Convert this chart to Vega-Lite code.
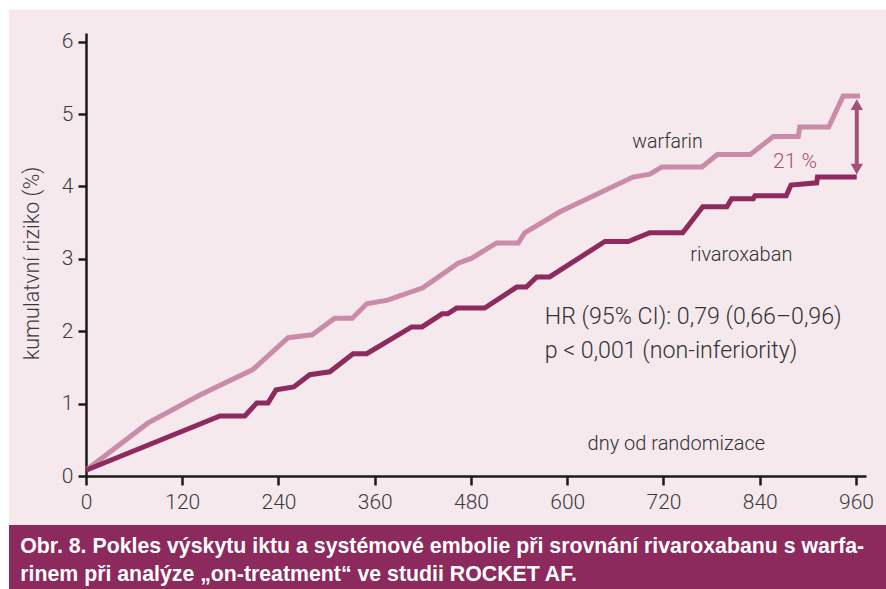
{
  "$schema": "https://vega.github.io/schema/vega-lite/v6.json",
  "autosize": "none",
  "width": 780,
  "height": 443,
  "padding": {"left": 86, "top": 33, "right": 20, "bottom": 113},
  "background": "#f5e9ee",
  "config": {
    "view": {"stroke": null},
    "font": "Roboto",
    "axis": {
      "domainColor": "#1c1a1b",
      "domainWidth": 2.5,
      "tickColor": "#1c1a1b",
      "tickWidth": 2.5,
      "grid": false,
      "labelFont": "Roboto",
      "labelFontWeight": 300,
      "labelFontSize": 21,
      "labelColor": "#3c3a3b",
      "labelFlush": false,
      "labelOverlap": false,
      "labelBound": false
    }
  },
  "layer": [
    {
      "data": {"values": [
        {"series": "warfarin", "day": 0, "value": 0.08},
        {"series": "warfarin", "day": 77, "value": 0.73},
        {"series": "warfarin", "day": 142, "value": 1.12},
        {"series": "warfarin", "day": 208, "value": 1.47},
        {"series": "warfarin", "day": 252, "value": 1.91},
        {"series": "warfarin", "day": 282, "value": 1.95},
        {"series": "warfarin", "day": 310, "value": 2.18},
        {"series": "warfarin", "day": 332, "value": 2.18},
        {"series": "warfarin", "day": 350, "value": 2.38},
        {"series": "warfarin", "day": 376, "value": 2.43},
        {"series": "warfarin", "day": 420, "value": 2.6},
        {"series": "warfarin", "day": 464, "value": 2.94},
        {"series": "warfarin", "day": 481, "value": 3.01},
        {"series": "warfarin", "day": 512, "value": 3.22},
        {"series": "warfarin", "day": 539, "value": 3.22},
        {"series": "warfarin", "day": 547, "value": 3.36},
        {"series": "warfarin", "day": 591, "value": 3.65},
        {"series": "warfarin", "day": 682, "value": 4.13},
        {"series": "warfarin", "day": 703, "value": 4.17},
        {"series": "warfarin", "day": 718, "value": 4.27},
        {"series": "warfarin", "day": 768, "value": 4.27},
        {"series": "warfarin", "day": 787, "value": 4.44},
        {"series": "warfarin", "day": 828, "value": 4.44},
        {"series": "warfarin", "day": 857, "value": 4.69},
        {"series": "warfarin", "day": 888, "value": 4.69},
        {"series": "warfarin", "day": 890, "value": 4.82},
        {"series": "warfarin", "day": 926, "value": 4.82},
        {"series": "warfarin", "day": 944, "value": 5.25},
        {"series": "warfarin", "day": 965, "value": 5.25},
        {"series": "rivaroxaban", "day": 0, "value": 0.08},
        {"series": "rivaroxaban", "day": 167, "value": 0.83},
        {"series": "rivaroxaban", "day": 198, "value": 0.83},
        {"series": "rivaroxaban", "day": 213, "value": 1.01},
        {"series": "rivaroxaban", "day": 227, "value": 1.01},
        {"series": "rivaroxaban", "day": 237, "value": 1.19},
        {"series": "rivaroxaban", "day": 259, "value": 1.23},
        {"series": "rivaroxaban", "day": 279, "value": 1.4},
        {"series": "rivaroxaban", "day": 304, "value": 1.44},
        {"series": "rivaroxaban", "day": 333, "value": 1.69},
        {"series": "rivaroxaban", "day": 350, "value": 1.69},
        {"series": "rivaroxaban", "day": 406, "value": 2.06},
        {"series": "rivaroxaban", "day": 419, "value": 2.06},
        {"series": "rivaroxaban", "day": 444, "value": 2.24},
        {"series": "rivaroxaban", "day": 451, "value": 2.24},
        {"series": "rivaroxaban", "day": 462, "value": 2.32},
        {"series": "rivaroxaban", "day": 497, "value": 2.32},
        {"series": "rivaroxaban", "day": 537, "value": 2.61},
        {"series": "rivaroxaban", "day": 549, "value": 2.61},
        {"series": "rivaroxaban", "day": 562, "value": 2.75},
        {"series": "rivaroxaban", "day": 578, "value": 2.75},
        {"series": "rivaroxaban", "day": 647, "value": 3.24},
        {"series": "rivaroxaban", "day": 676, "value": 3.24},
        {"series": "rivaroxaban", "day": 703, "value": 3.36},
        {"series": "rivaroxaban", "day": 744, "value": 3.36},
        {"series": "rivaroxaban", "day": 769, "value": 3.72},
        {"series": "rivaroxaban", "day": 799, "value": 3.72},
        {"series": "rivaroxaban", "day": 805, "value": 3.83},
        {"series": "rivaroxaban", "day": 832, "value": 3.83},
        {"series": "rivaroxaban", "day": 834, "value": 3.87},
        {"series": "rivaroxaban", "day": 873, "value": 3.87},
        {"series": "rivaroxaban", "day": 879, "value": 4.02},
        {"series": "rivaroxaban", "day": 911, "value": 4.05},
        {"series": "rivaroxaban", "day": 912, "value": 4.13},
        {"series": "rivaroxaban", "day": 961, "value": 4.13}
      ]},
      "mark": {"type": "line", "strokeWidth": 5, "strokeJoin": "miter", "clip": false},
      "encoding": {
        "x": {
          "field": "day", "type": "quantitative",
          "scale": {"domain": [0, 972.5], "nice": false, "zero": false},
          "axis": {"values": [0, 120, 240, 360, 480, 600, 720, 840, 960], "format": "d", "tickSize": 9, "labelPadding": 6, "title": null}
        },
        "y": {
          "field": "value", "type": "quantitative",
          "scale": {"domain": [0, 6.12], "nice": false, "zero": false},
          "axis": {
            "values": [0, 1, 2, 3, 4, 5, 6], "format": "d", "tickSize": 8, "labelPadding": 5,
            "title": "kumulatvní riziko (%)",
            "titleFont": "Roboto", "titleFontWeight": 300, "titleFontSize": 21.5,
            "titleColor": "#3c3a3b", "titleBaseline": "middle", "titleAlign": "center",
            "titleAngle": -90, "titleX": -54, "titleY": 230
          }
        },
        "color": {
          "field": "series", "type": "nominal",
          "scale": {"domain": ["warfarin", "rivaroxaban"], "range": ["#c98ba7", "#8e2a5e"]},
          "legend": null
        }
      }
    },
    {
      "data": {"values": [{}]},
      "mark": {"type": "rect", "color": "#ffffff", "clip": false},
      "encoding": {
        "x": {"datum": -120, "type": "quantitative"},
        "x2": {"datum": -96},
        "y": {"datum": 7},
        "y2": {"datum": -1.7}
      }
    },
    {
      "data": {"values": [{}]},
      "mark": {"type": "rect", "color": "#ffffff", "clip": false},
      "encoding": {
        "x": {"datum": -120, "type": "quantitative"},
        "x2": {"datum": 1010},
        "y": {"datum": 7},
        "y2": {"datum": 6.44}
      }
    },
    {
      "data": {"values": [{}]},
      "mark": {"type": "rect", "color": "#8c2a5d", "clip": false},
      "encoding": {
        "x": {"datum": -96, "type": "quantitative"},
        "x2": {"datum": 1010},
        "y": {"datum": -0.677, "type": "quantitative"},
        "y2": {"datum": -1.7}
      }
    },
    {
      "data": {"values": [{}]},
      "mark": {"type": "rule", "color": "#a4507b", "strokeWidth": 4},
      "encoding": {
        "x": {"datum": 961, "type": "quantitative"},
        "y": {"datum": 5.12, "type": "quantitative"},
        "y2": {"datum": 4.25}
      }
    },
    {
      "data": {"values": [{}]},
      "mark": {"type": "point", "shape": "triangle-up", "filled": true, "color": "#a4507b", "size": 150, "opacity": 1},
      "encoding": {
        "x": {"datum": 961, "type": "quantitative"},
        "y": {"datum": 5.13, "type": "quantitative"}
      }
    },
    {
      "data": {"values": [{}]},
      "mark": {"type": "point", "shape": "triangle-down", "filled": true, "color": "#a4507b", "size": 150, "opacity": 1},
      "encoding": {
        "x": {"datum": 961, "type": "quantitative"},
        "y": {"datum": 4.24, "type": "quantitative"}
      }
    },
    {
      "data": {"values": [{}]},
      "mark": {"type": "text", "text": "warfarin", "font": "Roboto", "fontWeight": 300, "fontSize": 19.5, "color": "#333132", "align": "center", "baseline": "middle"},
      "encoding": {"x": {"datum": 725, "type": "quantitative"}, "y": {"datum": 4.62, "type": "quantitative"}}
    },
    {
      "data": {"values": [{}]},
      "mark": {"type": "text", "text": "rivaroxaban", "font": "Roboto", "fontWeight": 300, "fontSize": 20, "color": "#333132", "align": "center", "baseline": "middle"},
      "encoding": {"x": {"datum": 817, "type": "quantitative"}, "y": {"datum": 3.06, "type": "quantitative"}}
    },
    {
      "data": {"values": [{}]},
      "mark": {"type": "text", "text": "21 %", "font": "Roboto", "fontWeight": 300, "fontSize": 21, "color": "#a4507b", "align": "center", "baseline": "middle"},
      "encoding": {"x": {"datum": 884, "type": "quantitative"}, "y": {"datum": 4.34, "type": "quantitative"}}
    },
    {
      "data": {"values": [{}]},
      "mark": {"type": "text", "text": ["HR (95% CI): 0,79 (0,66–0,96)", "p < 0,001 (non-inferiority)"], "lineHeight": 34, "font": "Roboto", "fontWeight": 300, "fontSize": 23.2, "color": "#333132", "align": "left", "baseline": "middle"},
      "encoding": {"x": {"datum": 572, "type": "quantitative"}, "y": {"datum": 2.19, "type": "quantitative"}}
    },
    {
      "data": {"values": [{}]},
      "mark": {"type": "text", "text": "dny od randomizace", "font": "Roboto", "fontWeight": 300, "fontSize": 20, "color": "#333132", "align": "center", "baseline": "middle"},
      "encoding": {"x": {"datum": 736, "type": "quantitative"}, "y": {"datum": 0.44, "type": "quantitative"}}
    },
    {
      "data": {"values": [{}]},
      "mark": {"type": "text", "text": ["Obr. 8. Pokles výskytu iktu a systémové embolie při srovnání rivaroxabanu s warfa-", "rinem při analýze „on-treatment“ ve studii ROCKET AF."], "lineHeight": 28, "font": "Liberation Sans", "fontWeight": "bold", "fontSize": 21.3, "color": "#ffffff", "align": "left", "baseline": "alphabetic"},
      "encoding": {"x": {"datum": -82, "type": "quantitative"}, "y": {"datum": -1.06, "type": "quantitative"}}
    }
  ]
}
